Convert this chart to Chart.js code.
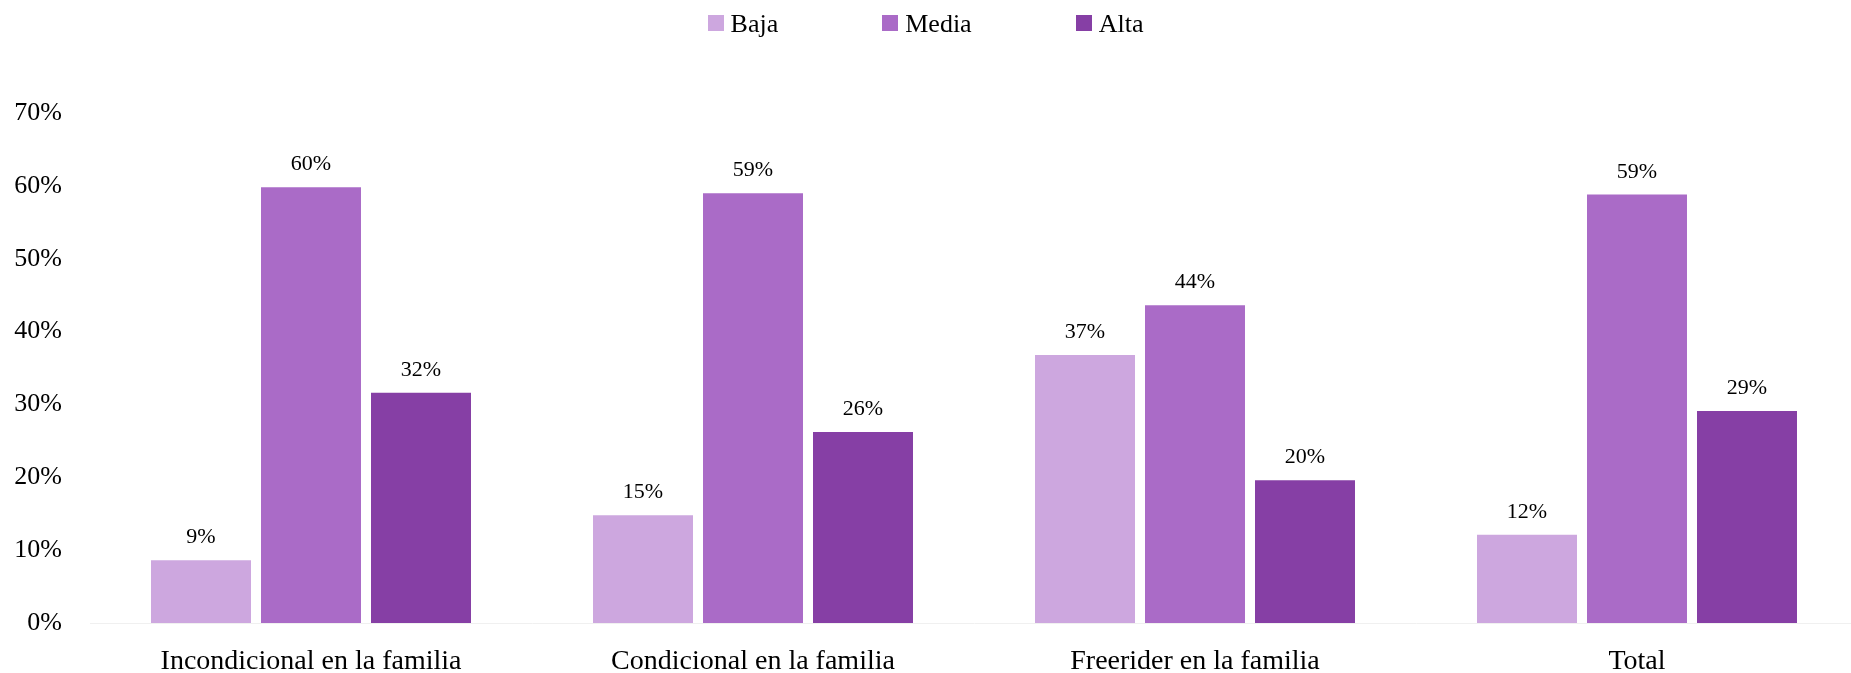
<!DOCTYPE html>
<html>
<head>
<meta charset="utf-8">
<script src="https://cdn.jsdelivr.net/npm/chart.js@4"></script>
<style>
  html, body { margin: 0; padding: 0; background: #fff; overflow: hidden; }
  body { width: 1851px; height: 673px; position: relative; }
  #wrap { position: absolute; left: 0; top: 0; width: 1858px; height: 673px; }
  #legend {
    position: absolute; left: 0; top: 0; width: 1851px; height: 40px;
    display: flex; justify-content: center; gap: 104px;
    font-family: 'Liberation Serif', serif; font-size: 26px; color: #000;
  }
  .item { display: flex; align-items: flex-start; padding-top: 9px; }
  .box { width: 16px; height: 16px; margin-top: 6px; margin-right: 7px; }
</style>
</head>
<body>
<div id="wrap"><canvas id="chart"></canvas></div>
<div id="legend"></div>
<script>
// --- data ---
const categories = ['Incondicional en la familia', 'Condicional en la familia', 'Freerider en la familia', 'Total'];
const seriesNames = ['Baja', 'Media', 'Alta'];
const baja  = [8.6, 14.8, 36.8, 12.1];
const media = [59.8, 59.0, 43.6, 58.8];
const alta  = [31.6, 26.2, 19.6, 29.1];
const yTicks = [0, 10, 20, 30, 40, 50, 60, 70];

const colors = ['#cda7df', '#aa6bc7', '#863fa5'];
const FONT = "'Liberation Serif', serif";

// legend (html)
const legendEl = document.getElementById('legend');
seriesNames.forEach((name, i) => {
    const item = document.createElement('div');
    item.className = 'item';
    item.innerHTML = '<span class="box" style="background:' + colors[i] + '"></span><span>' + name + '</span>';
    legendEl.appendChild(item);
});

// etiquetas de valor encima de cada barra
const valueLabels = {
    id: 'valueLabels',
    afterDatasetsDraw(chart) {
        const ctx = chart.ctx;
        ctx.save();
        ctx.font = '22px ' + FONT;
        ctx.fillStyle = '#000';
        ctx.textAlign = 'center';
        ctx.textBaseline = 'alphabetic';
        chart.data.datasets.forEach((ds, i) => {
            chart.getDatasetMeta(i).data.forEach((bar, j) => {
                ctx.fillText(Math.round(ds.data[j]) + '%', bar.x, bar.y - 17);
            });
        });
        ctx.restore();
    }
};

new Chart(document.getElementById('chart'), {
    type: 'bar',
    data: {
        labels: categories,
        datasets: [baja, media, alta].map((d, i) => ({
            label: seriesNames[i],
            data: d,
            backgroundColor: colors[i],
            borderWidth: 0,
            categoryPercentage: 0.7466,
            barPercentage: 0.909
        }))
    },
    options: {
        responsive: true,
        maintainAspectRatio: false,
        animation: false,
        layout: { padding: { top: 113, right: 0, bottom: 0, left: 0 } },
        plugins: {
            legend: { display: false },
            tooltip: { enabled: false }
        },
        scales: {
            x: {
                grid: { display: false, drawTicks: false },
                border: { display: true, color: '#f0f0f0', width: 1 },
                ticks: { color: '#000', font: { family: FONT, size: 28 }, padding: 22, maxRotation: 0 },
                afterFit: (scale) => { scale.height = 50; }
            },
            y: {
                min: 0,
                max: 70,
                afterBuildTicks: (scale) => { scale.ticks = yTicks.map(v => ({ value: v })); },
                grid: { display: false, drawTicks: false },
                border: { display: false },
                ticks: {
                    color: '#000',
                    font: { family: FONT, size: 26 },
                    padding: 28,
                    callback: (v) => v + '%'
                },
                afterFit: (scale) => { scale.width = 90; }
            }
        }
    },
    plugins: [valueLabels]
});
</script>
</body>
</html>
